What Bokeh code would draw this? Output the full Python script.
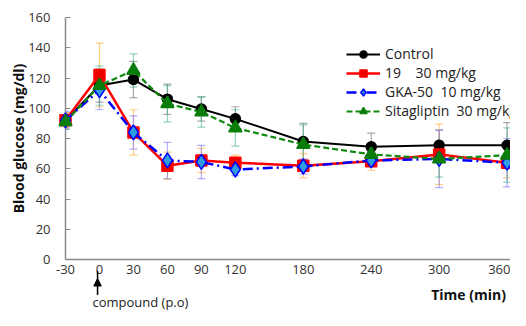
from bokeh.plotting import figure
from bokeh.models import (ColumnDataSource, Whisker, TeeHead, Legend, LegendItem,
                          Range1d, FixedTicker)
from bokeh.core.properties import value
from bokeh.embed import file_html
from bokeh.resources import INLINE

# ---- data ----
time_min = [-30, 0, 30, 60, 90, 120, 180, 240, 300, 360]
x_ticks = [-30, 0, 30, 60, 90, 120, 180, 240, 300, 360]
y_ticks = [0, 20, 40, 60, 80, 100, 120, 140, 160]

control = [92, 115, 119, 106, 99.5, 93, 78, 74.5, 75.5, 75.5]
control_err = [5, 11, 12, 10, 8, 8, 12, 9, 10, 15]

cpd19 = [92, 122, 84, 62, 65.5, 64, 62, 65, 69.5, 64]
cpd19_err = [5, 21, 15, 9, 8, 5, 8, 6, 20, 10]

gka50 = [92, 112, 84, 65.5, 64.5, 59.5, 61.5, 65.5, 66.5, 64]
gka50_err = [6, 13, 11, 12, 11, 4, 5, 4, 19, 16]

sita = [91, 115, 125, 103, 97.5, 87, 76, 69.5, 66.5, 69]
sita_err = [5, 13, 11, 12, 10, 12, 13, 5, 12, 18]

series_names = ["Control", "19    30 mg/kg", "GKA-50  10 mg/kg", "Sitagliptin  30 mg/kg"]

# annotation below the axis: dosing arrow at t = 0
dose_x = -1.7
dose_arrow_from = -23.5
dose_arrow_tip = -12.5
head_half_w = 3.3   # data units
head_len = 5.0      # data units
dose_text = ["compound (p.o)"]
time_label = ["Time (min)"]

FONT = "Open Sans"

p = figure(width=510, height=310, output_backend="svg", toolbar_location=None,
           x_range=Range1d(-30, 363), y_range=Range1d(0, 160),
           min_border_left=65, min_border_right=0, min_border_top=17, min_border_bottom=51)
p.outline_line_color = None
p.grid.grid_line_color = None
p.background_fill_color = "white"
p.border_fill_color = "white"

# axes
for ax in (p.xaxis[0], p.yaxis[0]):
    ax.axis_line_color = "#8a8a8a"
    ax.axis_line_width = 1.5
    ax.major_label_text_font = FONT
    ax.major_label_text_font_size = "13px"
    ax.major_label_text_color = "#333333"
    ax.minor_tick_line_color = None
    ax.major_tick_line_color = "#8a8a8a"

p.xaxis.ticker = FixedTicker(ticks=x_ticks)
p.xaxis.major_label_overrides = {t: str(t) for t in x_ticks}
p.xaxis.major_tick_in = 0
p.xaxis.major_tick_out = 0
p.xaxis.major_label_standoff = 5

p.yaxis.ticker = FixedTicker(ticks=y_ticks)
p.yaxis.major_tick_in = 5
p.yaxis.major_tick_out = 0
p.yaxis.major_label_standoff = 15
p.yaxis.axis_label = "Blood glucose (mg/dl)"
p.yaxis.axis_label_text_font = FONT
p.yaxis.axis_label_text_font_style = "bold"
p.yaxis.axis_label_text_font_size = "14px"
p.yaxis.axis_label_text_color = "#111111"
p.yaxis.axis_label_standoff = -3

def make_series(vals, errs, line_color, line_dash, lw, marker, msize, mfill, mline, err_color):
    upper = [v + e for v, e in zip(vals, errs)]
    lower = [v - e for v, e in zip(vals, errs)]
    src = ColumnDataSource(dict(x=time_min, y=vals, upper=upper, lower=lower))
    w = Whisker(base="x", upper="upper", lower="lower", source=src,
                line_color=err_color, line_alpha=0.55, line_width=1.2, level="annotation",
                upper_head=TeeHead(size=8, line_color=err_color, line_alpha=0.55, line_width=1.2),
                lower_head=TeeHead(size=8, line_color=err_color, line_alpha=0.55, line_width=1.2))
    p.add_layout(w)
    l = p.line("x", "y", source=src, line_color=line_color, line_width=lw, line_dash=line_dash,
               level="overlay")
    m = p.scatter("x", "y", source=src, marker=marker, size=msize, fill_color=mfill,
                  line_color=mline, line_width=1.5, level="overlay")
    return [l, m]

r_ctrl = make_series(control, control_err, "black", "solid", 2, "circle", 10, "black", "black", "#666666")
r_19 = make_series(cpd19, cpd19_err, "#ff0000", "solid", 2.5, "square", 11, "#ee0000", "#ff0000", "#ffaa22")
r_gka = make_series(gka50, gka50_err, "#0000ff", "10 4 2 4", 2.5, "diamond", 15, "#2f9be0", "#0000ff", "#6f6fff")
r_sita = make_series(sita, sita_err, "#0f8a0f", "6 3", 2.2, "triangle", 13, "#0a7d0a", "#0a7d0a", "#3fb08a")

legend = Legend(items=[LegendItem(label=series_names[0], renderers=r_ctrl),
                       LegendItem(label=series_names[1], renderers=r_19),
                       LegendItem(label=series_names[2], renderers=r_gka),
                       LegendItem(label=series_names[3], renderers=r_sita)],
                location=(281, 139), background_fill_alpha=0, border_line_color=None,
                label_text_font=FONT, label_text_font_size="14px", label_text_color="#222222",
                glyph_width=34, glyph_height=18, label_height=18, spacing=0, padding=4,
                margin=0, label_standoff=5)
p.add_layout(legend, "center")

# texts and arrow below the x axis, as unclipped overlay glyphs
p.text(x=[359], y=[-23.0], text=time_label, text_font=value(FONT), text_font_style="bold",
       text_font_size="14px", text_align="right", text_baseline="middle",
       text_color="#111111", level="overlay")
p.text(x=[-6.2], y=[-27.8], text=dose_text, text_font=value(FONT),
       text_font_size="13px", text_align="left", text_baseline="middle",
       text_color="#222222", level="overlay")
p.segment(x0=[dose_x], y0=[dose_arrow_from], x1=[dose_x], y1=[dose_arrow_tip + head_len],
          line_color="black", line_width=1.5, level="overlay")
p.patch(x=[dose_x, dose_x - head_half_w, dose_x + head_half_w],
        y=[dose_arrow_tip, dose_arrow_tip - head_len, dose_arrow_tip - head_len],
        fill_color="black", line_color="black", line_width=1, level="overlay")

open("out.html", "w").write(file_html(p, INLINE))
